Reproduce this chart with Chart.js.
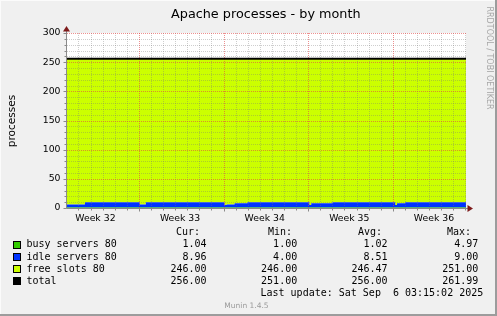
<!DOCTYPE html>
<html>
<head>
<meta charset="utf-8">
<script src="https://cdn.jsdelivr.net/npm/chart.js@4/dist/chart.umd.min.js"></script>
<style>
html,body{margin:0;padding:0;background:#f0f0f0;}
#wrap{position:relative;width:497px;height:316px;background:#f0f0f0;overflow:hidden;}
#c{position:absolute;left:0;top:0;}
.t{position:absolute;white-space:pre;margin:0;}
.mono{font-family:'DejaVu Sans Mono';font-size:10px;line-height:12px;color:#000;}
.sq{position:absolute;width:6px;height:6px;border:1px solid #000;}
#title{font-family:'DejaVu Sans';font-size:12.8px;line-height:15px;color:#000;left:171px;top:6.4px;}
#ylab{font-family:'DejaVu Sans';font-size:10.5px;line-height:12px;color:#000;left:10.5px;top:120.5px;transform:translate(-50%,-50%) rotate(-90deg);}
#rrd{font-family:'DejaVu Sans';font-size:8px;line-height:9px;color:#a6a6a6;left:488.5px;top:57.5px;transform:translate(-50%,-50%) rotate(90deg);}
#munin{font-family:'DejaVu Sans';font-size:7.5px;line-height:9px;color:#9a9a9a;left:246.5px;top:305px;transform:translate(-50%,-50%);}
#fr{position:absolute;right:0;top:0;width:2px;height:316px;background:#9c9c9c;}
#fb{position:absolute;left:0;bottom:0;width:497px;height:2px;background:#9c9c9c;}
#fl{position:absolute;left:0;top:0;width:1px;height:316px;background:#fbfbfb;}
#ft{position:absolute;left:0;top:0;width:497px;height:1px;background:#fbfbfb;}
</style>
</head>
<body>
<div id="wrap">
<canvas id="c" width="497" height="316"></canvas>
<div id="fl"></div><div id="ft"></div><div id="fr"></div><div id="fb"></div>
<div class="t" id="title"></div>
<div class="t" id="ylab"></div>
<div class="t" id="rrd"></div>
<div class="t" id="munin"></div>
<div id="legend"></div>
</div>
<script>
// ---- data (x = days since start of the 33-day window; each level given at start and end of its span) ----
const dayMarks    = [0, 1.48, 1.49, 6.01, 6.02, 6.51, 6.52, 13.03, 13.04, 13.19, 13.2, 13.85, 13.86, 14.92,
                     14.93, 20.04, 20.05, 20.19, 20.2, 21.94, 21.95, 27.14, 27.15, 27.29, 27.3, 27.96, 27.97, 33];
const busyServers = [1, 1, 1, 1, 1, 1, 1, 1, 1, 1, 1, 1, 1, 1,
                     1, 1, 1, 1, 1, 1, 1, 1, 1, 1, 1, 1, 1, 1.04];
const idleServers = [5, 5, 9, 9, 5, 5, 9, 9, 4, 4, 5, 5, 7, 7,
                     9, 9, 4, 4, 7, 7, 9, 9, 4, 4, 7, 7, 9, 8.96];
const freeSlots   = [250, 250, 246, 246, 250, 250, 246, 246, 251, 251, 250, 250, 248, 248,
                     246, 246, 251, 251, 248, 248, 246, 246, 251, 251, 248, 248, 246, 246];
const totalProcs  = [256, 256, 256, 256, 256, 256, 256, 256, 256, 256, 256, 256, 256, 256,
                     256, 256, 256, 256, 256, 256, 256, 256, 256, 256, 256, 256, 256, 256];

const weekLabels    = ['Week 32', 'Week 33', 'Week 34', 'Week 35', 'Week 36'];
const weekLabelDays = [2.35, 9.35, 16.35, 23.35, 30.35];
const weekLineDays  = [5.95, 12.95, 19.95, 26.95];
const dayLineFirst  = 0.95;
const yMax = 300, yMajor = 50, yMinor = 10, xMax = 33;

const seriesNames  = ['busy servers 80', 'idle servers 80', 'free slots 80', 'total'];
const seriesColors = ['#33cc00', '#0033ff', '#ccff00', '#000000'];
const curVals = ['1.04', '8.96', '246.00', '256.00'];
const minVals = ['1.00', '4.00', '246.00', '251.00'];
const avgVals = ['1.02', '8.51', '246.47', '256.00'];
const maxVals = ['4.97', '9.00', '251.00', '261.99'];
const lastUpdate = 'Last update: Sat Sep  6 03:15:02 2025';

// ---- static texts ----
document.getElementById('title').textContent = 'Apache processes - by month';
document.getElementById('ylab').textContent = 'processes';
document.getElementById('rrd').textContent = 'RRDTOOL / TOBI OETIKER';
document.getElementById('munin').textContent = 'Munin 1.4.5';

// ---- legend table ----
const lg = document.getElementById('legend');
function addText(txt, left, top, right) {
  const d = document.createElement('div');
  d.className = 't mono';
  d.textContent = txt;
  d.style.top = top + 'px';
  if (right !== undefined) { d.style.right = (497 - right) + 'px'; d.style.textAlign = 'right'; }
  else d.style.left = left + 'px';
  lg.appendChild(d);
}
const headTop = 226.2, rowTop0 = 238.4, rowStep = 12.1;
addText('Cur:', 176, headTop);
addText('Min:', 268, headTop);
addText('Avg:', 358, headTop);
addText('Max:', 447, headTop);
seriesNames.forEach((name, i) => {
  const top = rowTop0 + i * rowStep;
  const sq = document.createElement('div');
  sq.className = 'sq';
  sq.style.left = '13px';
  sq.style.top = (top + 2.6) + 'px';
  sq.style.background = seriesColors[i];
  lg.appendChild(sq);
  addText(name, 26.5, top);
  addText(curVals[i], 0, top, 206.6);
  addText(minVals[i], 0, top, 297.2);
  addText(avgVals[i], 0, top, 387.6);
  addText(maxVals[i], 0, top, 478.3);
});
addText(lastUpdate, 260.5, rowTop0 + 4 * rowStep);

// ---- chart ----
const pts = arr => dayMarks.map((d, i) => ({x: d, y: arr[i]}));

const rrdPlugin = {
  id: 'rrd',
  beforeDraw(chart) {
    const {ctx, chartArea: a} = chart;
    ctx.save();
    ctx.fillStyle = '#ffffff';
    ctx.fillRect(a.left, a.top, a.right - a.left, a.bottom - a.top);
    ctx.restore();
  },
  beforeDatasetDraw(chart, args) {
    if (args.index !== 3) return;
    const {ctx, chartArea: a, scales: {x, y}} = chart;
    ctx.save();
    ctx.lineWidth = 1;
    ctx.setLineDash([1, 1]);
    // minor grid
    ctx.strokeStyle = 'rgba(120,120,120,0.36)';
    ctx.beginPath();
    for (let v = yMinor; v <= yMax; v += yMinor) {
      if (v % yMajor === 0) continue;
      const py = Math.round(y.getPixelForValue(v)) + 0.5;
      ctx.moveTo(a.left, py); ctx.lineTo(a.right, py);
    }
    for (let d = dayLineFirst; d < xMax; d += 1) {
      if (weekLineDays.some(w => Math.abs(w - d) < 0.01)) continue;
      const px = Math.round(x.getPixelForValue(d)) + 0.5;
      ctx.moveTo(px, a.top); ctx.lineTo(px, a.bottom);
    }
    ctx.stroke();
    // major grid
    ctx.strokeStyle = 'rgba(225,70,70,0.6)';
    ctx.beginPath();
    for (let v = yMajor; v <= yMax; v += yMajor) {
      const py = Math.round(y.getPixelForValue(v)) + 0.5;
      ctx.moveTo(a.left, py); ctx.lineTo(a.right, py);
    }
    weekLineDays.forEach(d => {
      const px = Math.round(x.getPixelForValue(d)) + 0.5;
      ctx.moveTo(px, a.top); ctx.lineTo(px, a.bottom);
    });
    ctx.stroke();
    ctx.restore();
  },
  afterDatasetsDraw(chart) {
    const {ctx, chartArea: a, scales: {x, y}} = chart;
    ctx.save();
    ctx.lineWidth = 1;
    ctx.setLineDash([]);
    ctx.strokeStyle = '#8a8a8a';
    ctx.beginPath();
    const ax = a.left - 0.5, ay = a.bottom + 0.5;
    ctx.moveTo(ax, ay); ctx.lineTo(ax, a.top - 2);
    ctx.moveTo(ax, ay); ctx.lineTo(a.right + 2, ay);
    for (let v = 0; v <= yMax; v += yMinor) {
      const py = Math.round(y.getPixelForValue(v)) + 0.5;
      const len = v % yMajor === 0 ? 3 : 2;
      ctx.moveTo(ax - len, py); ctx.lineTo(ax, py);
    }
    for (let d = dayLineFirst; d < xMax; d += 1) {
      const px = Math.round(x.getPixelForValue(d)) + 0.5;
      const len = weekLineDays.some(w => Math.abs(w - d) < 0.01) ? 3 : 2;
      ctx.moveTo(px, ay); ctx.lineTo(px, ay + len);
    }
    ctx.stroke();
    ctx.fillStyle = '#7e1b1b';
    ctx.beginPath();
    ctx.moveTo(ax, a.top - 7); ctx.lineTo(ax - 3.5, a.top - 1.5); ctx.lineTo(ax + 3.5, a.top - 1.5); ctx.closePath();
    ctx.fill();
    ctx.beginPath();
    ctx.moveTo(a.right + 7, ay); ctx.lineTo(a.right + 1.5, ay - 3.5); ctx.lineTo(a.right + 1.5, ay + 3.5); ctx.closePath();
    ctx.fill();
    ctx.restore();
  }
};

const area = (label, arr, color, fill) => ({
  label, data: pts(arr), backgroundColor: color, borderColor: 'rgba(0,0,0,0)', borderWidth: 0,
  fill, pointRadius: 0, stack: 'procs', order: 0
});

new Chart(document.getElementById('c'), {
  type: 'line',
  data: {
    datasets: [
      area(seriesNames[0], busyServers, seriesColors[0], 'origin'),
      area(seriesNames[1], idleServers, seriesColors[1], '-1'),
      area(seriesNames[2], freeSlots, seriesColors[2], '-1'),
      {label: seriesNames[3], data: pts(totalProcs), borderColor: seriesColors[3], borderWidth: 2,
       fill: false, pointRadius: 0, stack: 'total', order: -1}
    ]
  },
  options: {
    responsive: false, animation: false, devicePixelRatio: 1,
    layout: {padding: {left: 0, top: 33, right: 31, bottom: 88}},
    plugins: {legend: {display: false}, title: {display: false}, tooltip: {enabled: false}},
    elements: {line: {tension: 0}},
    scales: {
      x: {
        type: 'linear', min: 0, max: xMax,
        grid: {display: false, drawTicks: false}, border: {display: false},
        afterBuildTicks(s) { s.ticks = weekLabelDays.map(v => ({value: v})); },
        afterFit(s) { s.height = 20; },
        ticks: {autoSkip: false, maxRotation: 0, padding: 5, color: '#000',
                font: {family: 'DejaVu Sans', size: 9.3},
                callback: (v, i) => weekLabels[i]}
      },
      y: {
        stacked: true, min: 0, max: yMax,
        grid: {display: false, drawTicks: false}, border: {display: false},
        afterFit(s) { s.width = 67; },
        ticks: {stepSize: yMajor, padding: 6.5, color: '#000', font: {family: 'DejaVu Sans', size: 9.3}}
      }
    }
  },
  plugins: [rrdPlugin]
});
</script>
</body>
</html>
